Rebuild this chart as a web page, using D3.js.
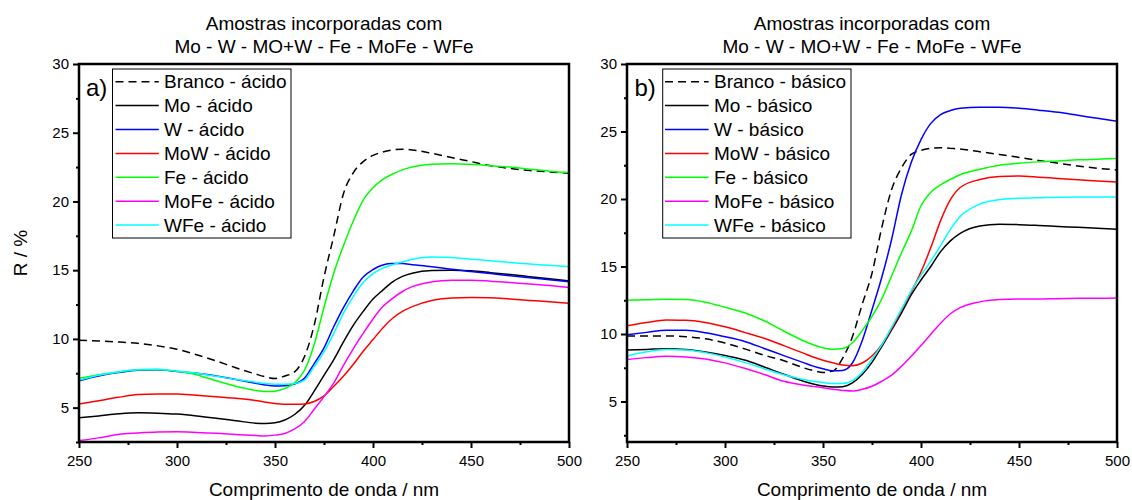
<!DOCTYPE html>
<html>
<head>
<meta charset="utf-8">
<script src="https://cdn.jsdelivr.net/npm/d3@7"></script>
<style>
  body { margin: 0; background: #fff; }
  svg { display: block; }
  text { font-family: "Liberation Sans", Arial, sans-serif; fill: #000; }
</style>
</head>
<body>
<svg id="chart" width="1132" height="500"></svg>
<script>
// Wavelength grid (nm) shared by every spectrum
const wavelengths = [250, 260, 270, 280, 290, 300, 310, 320, 330, 340, 345, 350, 355, 360, 365, 370,
  375, 380, 385, 390, 395, 400, 405, 410, 415, 420, 430, 440, 450, 460, 470, 480, 490, 500];

// Reflectance R (%) — acid-treated samples
const brancoAcido = [9.9, 9.85, 9.78, 9.68, 9.5, 9.25, 8.85, 8.4, 7.9, 7.45, 7.25, 7.12, 7.3, 7.6, 8.7, 11.0,
  14.5, 17.5, 20.6, 22.1, 22.9, 23.35, 23.6, 23.75, 23.8, 23.75, 23.5, 23.2, 22.9, 22.6, 22.4, 22.25, 22.15, 22.05];
const moAcido = [4.27, 4.4, 4.55, 4.63, 4.6, 4.53, 4.4, 4.23, 4.05, 3.87, 3.85, 3.9, 4.1, 4.5, 5.15, 6.2,
  7.35, 8.5, 9.8, 11.0, 12.0, 12.9, 13.55, 14.15, 14.55, 14.78, 14.98, 15.0, 14.95, 14.82, 14.68, 14.53, 14.38, 14.22];
const wAcido = [6.96, 7.3, 7.55, 7.72, 7.75, 7.62, 7.5, 7.3, 7.05, 6.78, 6.65, 6.58, 6.6, 6.72, 7.13, 8.2,
  9.35, 10.9, 12.3, 13.5, 14.5, 15.05, 15.38, 15.48, 15.48, 15.4, 15.25, 15.06, 14.9, 14.75, 14.6, 14.45, 14.3, 14.15];
const mowAcido = [5.27, 5.5, 5.75, 5.95, 6.0, 6.0, 5.9, 5.8, 5.68, 5.52, 5.4, 5.3, 5.25, 5.24, 5.27, 5.45,
  5.85, 6.55, 7.3, 8.15, 9.1, 9.95, 10.8, 11.5, 12.0, 12.35, 12.8, 12.97, 13.02, 13.0, 12.9, 12.8, 12.7, 12.6];
const feAcido = [7.13, 7.4, 7.6, 7.75, 7.78, 7.65, 7.4, 6.95, 6.55, 6.25, 6.17, 6.2, 6.4, 6.8, 7.7, 9.6,
  12.3, 14.8, 16.8, 18.6, 20.1, 21.0, 21.6, 22.0, 22.3, 22.5, 22.7, 22.75, 22.7, 22.6, 22.5, 22.35, 22.2, 22.1];
const mofeAcido = [2.6, 2.8, 3.05, 3.15, 3.22, 3.24, 3.2, 3.14, 3.05, 2.97, 2.94, 3.0, 3.12, 3.45, 3.98, 4.88,
  5.8, 6.8, 8.1, 9.3, 10.4, 11.45, 12.35, 12.95, 13.45, 13.8, 14.15, 14.27, 14.27, 14.2, 14.1, 14.0, 13.88, 13.74];
const wfeAcido = [7.0, 7.35, 7.6, 7.75, 7.8, 7.65, 7.5, 7.28, 7.05, 6.85, 6.75, 6.7, 6.7, 6.75, 7.0, 7.98,
  9.05, 10.4, 11.9, 13.1, 14.1, 14.75, 15.15, 15.4, 15.6, 15.8, 15.95, 15.92, 15.8, 15.68, 15.55, 15.45, 15.35, 15.25];

// Reflectance R (%) — base-treated samples
const brancoBasico = [9.86, 9.86, 9.86, 9.8, 9.64, 9.33, 8.9, 8.43, 8.02, 7.5, 7.3, 7.15, 7.25, 8.2, 9.8, 12.2,
  14.5, 17.9, 20.7, 22.3, 23.3, 23.6, 23.75, 23.8, 23.75, 23.7, 23.5, 23.3, 23.08, 22.85, 22.65, 22.45, 22.28, 22.15];
const moBasico = [8.82, 8.86, 8.91, 8.86, 8.67, 8.4, 8.07, 7.56, 7.02, 6.5, 6.3, 6.15, 6.07, 6.1, 6.38, 7.0,
  7.9, 9.07, 10.3, 11.55, 12.9, 14.0, 15.0, 16.1, 16.9, 17.45, 18.0, 18.13, 18.1, 18.04, 17.97, 17.9, 17.83, 17.76];
const wBasico = [9.94, 10.12, 10.28, 10.27, 10.1, 9.8, 9.45, 8.93, 8.4, 7.88, 7.62, 7.42, 7.27, 7.3, 7.85, 9.5,
  11.8, 14.2, 17.0, 20.3, 22.7, 24.4, 25.6, 26.25, 26.55, 26.72, 26.8, 26.8, 26.72, 26.58, 26.42, 26.2, 25.98, 25.76];
const mowBasico = [10.61, 10.85, 11.03, 11.02, 10.85, 10.53, 10.12, 9.68, 9.14, 8.58, 8.3, 8.06, 7.87, 7.7, 7.64, 7.85,
  8.37, 9.2, 10.4, 11.75, 13.1, 14.6, 16.4, 18.4, 19.95, 20.85, 21.45, 21.67, 21.7, 21.62, 21.52, 21.43, 21.34, 21.26];
const feBasico = [12.5, 12.53, 12.58, 12.55, 12.35, 11.98, 11.58, 10.98, 10.22, 9.5, 9.2, 8.98, 8.87, 8.92, 9.35, 10.25,
  11.3, 12.6, 14.3, 16.0, 17.6, 19.5, 20.5, 21.05, 21.45, 21.8, 22.2, 22.5, 22.65, 22.75, 22.82, 22.9, 22.95, 23.0];
const mofeBasico = [8.12, 8.25, 8.35, 8.3, 8.15, 7.86, 7.46, 7.0, 6.5, 6.22, 6.12, 6.02, 5.9, 5.82, 5.77, 5.9,
  6.13, 6.5, 6.95, 7.6, 8.35, 9.15, 9.98, 10.8, 11.5, 11.95, 12.38, 12.55, 12.6, 12.6, 12.62, 12.64, 12.65, 12.66];
const wfeBasico = [8.37, 8.68, 8.85, 8.82, 8.62, 8.3, 7.9, 7.43, 6.98, 6.63, 6.5, 6.4, 6.33, 6.33, 6.55, 7.15,
  8.15, 9.2, 10.5, 11.82, 13.2, 14.35, 15.4, 16.55, 17.75, 18.7, 19.62, 19.95, 20.05, 20.1, 20.13, 20.15, 20.15, 20.15];

// Legend names, colours and tick values
const sampleNames = ["Branco", "Mo", "W", "MoW", "Fe", "MoFe", "WFe"];
const sampleColors = ["#000000", "#000000", "#0000ff", "#ff0000", "#00ff00", "#ff00ff", "#00ffff"];
const xMajorTicks = [250, 300, 350, 400, 450, 500];
const xMinorTicks = [275, 325, 375, 425, 475];
const yMajorTicks = [5, 10, 15, 20, 25, 30];
const yMinorTicks = [2.5, 7.5, 12.5, 17.5, 22.5, 27.5];
const titleLines = ["Amostras incorporadas com", "Mo - W - MO+W - Fe - MoFe - WFe"];

const panels = [
  { tag: "a)", suffix: "ácido", left: 79, right: 569, yDomain: [2.5, 30],
    series: [brancoAcido, moAcido, wAcido, mowAcido, feAcido, mofeAcido, wfeAcido],
    legend: { x: 112.5, w: 178.5, lineX0: 115.5, lineX1: 158.8, textX: 164 }, tagX: 86 },
  { tag: "b)", suffix: "básico", left: 627, right: 1117, yDomain: [2, 30],
    series: [brancoBasico, moBasico, wBasico, mowBasico, feBasico, mofeBasico, wfeBasico],
    legend: { x: 662.7, w: 188.3, lineX0: 665, lineX1: 708.6, textX: 714 }, tagX: 634.5 }
];

const plotTop = 64, plotBottom = 442;
const svg = d3.select("#chart");

panels.forEach((p, pi) => {
  const x = d3.scaleLinear().domain([250, 500]).range([p.left, p.right]);
  const y = d3.scaleLinear().domain(p.yDomain).range([plotBottom, plotTop]);
  const g = svg.append("g");

  // clip so curves stay inside the frame
  const clipId = "clip" + pi;
  svg.append("clipPath").attr("id", clipId).append("rect")
    .attr("x", p.left).attr("y", plotTop).attr("width", p.right - p.left).attr("height", plotBottom - plotTop);

  // spectra
  const line = d3.line().x((d, i) => x(wavelengths[i])).y(d => y(d)).curve(d3.curveMonotoneX);
  const curves = g.append("g").attr("clip-path", `url(#${clipId})`);
  p.series.forEach((vals, si) => {
    curves.append("path")
      .datum(vals)
      .attr("d", line)
      .attr("fill", "none")
      .attr("stroke", sampleColors[si])
      .attr("stroke-width", 1.5)
      .attr("stroke-dasharray", si === 0 ? "8,5" : null);
  });

  // x axis: major ticks with labels, minor ticks without
  const xMajor = g.append("g").attr("transform", `translate(0,${plotBottom})`)
    .call(d3.axisBottom(x).tickValues(xMajorTicks).tickSize(6).tickPadding(7).tickFormat(d3.format("d")));
  const xMinor = g.append("g").attr("transform", `translate(0,${plotBottom})`)
    .call(d3.axisBottom(x).tickValues(xMinorTicks).tickSize(3).tickFormat(""));
  const yMajor = g.append("g").attr("transform", `translate(${p.left},0)`)
    .call(d3.axisLeft(y).tickValues(yMajorTicks).tickSize(6).tickPadding(4).tickFormat(d3.format("d")));
  const yMinor = g.append("g").attr("transform", `translate(${p.left},0)`)
    .call(d3.axisLeft(y).tickValues(yMinorTicks).tickSize(3).tickFormat(""));
  [xMajor, xMinor, yMajor, yMinor].forEach(a => {
    a.select(".domain").remove();
    a.selectAll(".tick line").attr("stroke", "#000").attr("stroke-width", 2);
    a.selectAll(".tick text").attr("font-size", 15)
      .style("font-family", "'Liberation Sans', Arial, sans-serif").attr("fill", "#000");
  });

  // frame
  g.append("rect")
    .attr("x", p.left).attr("y", plotTop)
    .attr("width", p.right - p.left).attr("height", plotBottom - plotTop)
    .attr("fill", "none").attr("stroke", "#000").attr("stroke-width", 2.5);

  // titles
  const cx = (p.left + p.right) / 2;
  titleLines.forEach((t, i) => {
    g.append("text").attr("x", cx).attr("y", 29.5 + i * 23.3)
      .attr("text-anchor", "middle").attr("font-size", 19).text(t);
  });

  // x axis title
  g.append("text").attr("x", cx).attr("y", 496)
    .attr("text-anchor", "middle").attr("font-size", 19).text("Comprimento de onda / nm");

  // panel tag
  g.append("text").attr("x", p.tagX).attr("y", 95.5).attr("font-size", 24).text(p.tag);

  // legend
  const L = p.legend;
  const rowY0 = 81.7, rowStep = 23.9;
  g.append("rect").attr("x", L.x).attr("y", 69).attr("width", L.w).attr("height", 169)
    .attr("fill", "#fff").attr("stroke", "#000").attr("stroke-width", 1);
  sampleNames.forEach((name, si) => {
    const cy = rowY0 + si * rowStep;
    g.append("line").attr("x1", L.lineX0).attr("x2", L.lineX1).attr("y1", cy).attr("y2", cy)
      .attr("stroke", sampleColors[si]).attr("stroke-width", 1.5)
      .attr("stroke-dasharray", si === 0 ? "8,5" : null);
    g.append("text").attr("x", L.textX).attr("y", cy + 6.7).attr("font-size", 19)
      .text(`${name} - ${p.suffix}`);
  });
});

// y axis title (left panel only)
svg.append("text")
  .attr("transform", `translate(27,${(plotTop + plotBottom) / 2}) rotate(-90)`)
  .attr("text-anchor", "middle").attr("font-size", 19).text("R / %");
</script>
</body>
</html>
